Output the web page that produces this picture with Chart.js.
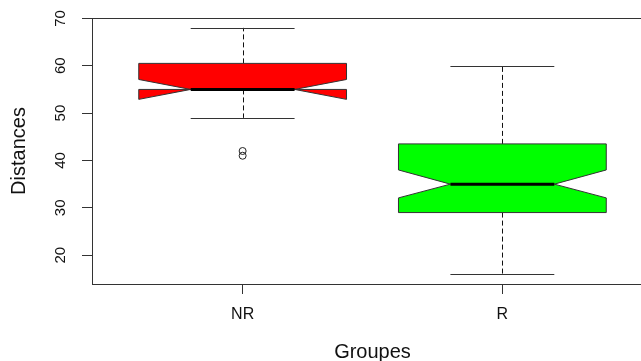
<!DOCTYPE html>
<html>
<head>
<meta charset="utf-8">
<script src="https://cdn.jsdelivr.net/npm/chart.js@4"></script>
<style>
  html, body { margin: 0; padding: 0; background: #fff; overflow: hidden; }
  #wrap { width: 660px; height: 361px; }
</style>
</head>
<body>
<div id="wrap"><canvas id="boite" width="660" height="361"></canvas></div>
<script>
// Donnees
const groupes = ['NR', 'R'];
const moustacheBas = [49, 16];
const quartileBas = [55, 29];
const medianes = [55, 35];
const quartileHaut = [60.5, 43.5];
const moustacheHaut = [68, 60];
const encocheBas = [52.9, 32.1];
const encocheHaut = [57.1, 38];
const aberrantsX = [1, 1];
const aberrantsY = [41, 42];
const couleurs = ['#ff0000', '#00ff00'];
const graduationsY = [20, 30, 40, 50, 60, 70];

const trait = '#333333';

// Dessin des boites a encoche (style R) via les echelles du graphique
const boitesPlugin = {
    id: 'boites',
    beforeDatasetsDraw(chart) {
        const ctx = chart.ctx;
        const x = chart.scales.x;
        const y = chart.scales.y;
        const area = chart.chartArea;

        ctx.save();
        groupes.forEach((g, i) => {
            const pos = i + 1;
            const xc = x.getPixelForValue(pos);
            const xl = x.getPixelForValue(pos - 0.4);
            const xr = x.getPixelForValue(pos + 0.4);
            const xil = x.getPixelForValue(pos - 0.2);
            const xir = x.getPixelForValue(pos + 0.2);

            // moustaches
            ctx.strokeStyle = '#111';
            ctx.lineWidth = 1;
            ctx.setLineDash([5, 3]);
            ctx.beginPath();
            ctx.moveTo(Math.round(xc) + 0.5, y.getPixelForValue(quartileHaut[i]));
            ctx.lineTo(Math.round(xc) + 0.5, y.getPixelForValue(moustacheHaut[i]));
            ctx.moveTo(Math.round(xc) + 0.5, y.getPixelForValue(quartileBas[i]));
            ctx.lineTo(Math.round(xc) + 0.5, y.getPixelForValue(moustacheBas[i]));
            ctx.stroke();
            ctx.setLineDash([]);

            // extremites
            ctx.strokeStyle = trait;
            ctx.beginPath();
            [moustacheHaut[i], moustacheBas[i]].forEach(v => {
                const py = Math.round(y.getPixelForValue(v)) + 0.5;
                ctx.moveTo(xil, py);
                ctx.lineTo(xir, py);
            });
            ctx.stroke();

            // boite avec encoche
            const yqb = y.getPixelForValue(quartileBas[i]);
            const yeb = y.getPixelForValue(encocheBas[i]);
            const ym = y.getPixelForValue(medianes[i]);
            const yeh = y.getPixelForValue(encocheHaut[i]);
            const yqh = y.getPixelForValue(quartileHaut[i]);
            ctx.beginPath();
            ctx.moveTo(xl, yqb);
            ctx.lineTo(xl, yeb);
            ctx.lineTo(xil, ym);
            ctx.lineTo(xl, yeh);
            ctx.lineTo(xl, yqh);
            ctx.lineTo(xr, yqh);
            ctx.lineTo(xr, yeh);
            ctx.lineTo(xir, ym);
            ctx.lineTo(xr, yeb);
            ctx.lineTo(xr, yqb);
            ctx.closePath();
            ctx.fillStyle = couleurs[i];
            ctx.fill();
            ctx.strokeStyle = trait;
            ctx.lineWidth = 1;
            ctx.stroke();

            // mediane
            ctx.strokeStyle = '#000';
            ctx.lineWidth = 3;
            ctx.beginPath();
            ctx.moveTo(xil, ym);
            ctx.lineTo(xir, ym);
            ctx.stroke();
        });

        // cadre
        ctx.strokeStyle = trait;
        ctx.lineWidth = 1;
        ctx.strokeRect(Math.round(area.left) + 0.5, Math.round(area.top) + 0.5,
            Math.round(area.right - area.left), Math.round(area.bottom - area.top));
        ctx.restore();
    }
};

const police = "'Liberation Sans', Arial, sans-serif";

new Chart(document.getElementById('boite').getContext('2d'), {
    type: 'scatter',
    data: {
        datasets: [{
            label: 'Aberrants',
            data: aberrantsX.map((v, i) => ({ x: v, y: aberrantsY[i] })),
            pointStyle: 'circle',
            pointRadius: 3.5,
            pointHoverRadius: 3.5,
            borderWidth: 1,
            borderColor: '#222',
            backgroundColor: 'rgba(0,0,0,0)'
        }]
    },
    options: {
        responsive: false,
        animation: false,
        layout: { padding: { top: 18, right: 7, left: 0, bottom: 0 } },
        plugins: {
            legend: { display: false },
            tooltip: { enabled: false }
        },
        scales: {
            x: {
                type: 'linear',
                min: 0.42,
                max: 2.58,
                afterBuildTicks: scale => { scale.ticks = groupes.map((g, i) => ({ value: i + 1 })); },
                afterFit: scale => {
                    scale.height = 77;
                    scale.paddingLeft = 0;
                    scale.paddingRight = 0;
                },
                ticks: {
                    autoSkip: false,
                    maxRotation: 0,
                    padding: 11,
                    color: '#111',
                    font: { family: police, size: 16 },
                    callback: v => groupes[v - 1]
                },
                grid: { drawOnChartArea: false, drawTicks: true, tickLength: 10, color: trait },
                border: { display: true, color: trait },
                title: {
                    display: true,
                    text: 'Groupes',
                    color: '#111',
                    font: { family: police, size: 20, lineHeight: 0.85 },
                    padding: { top: 0, bottom: 0 }
                }
            },
            y: {
                min: 13.92,
                max: 70.08,
                afterBuildTicks: scale => { scale.ticks = graduationsY.map(v => ({ value: v })); },
                afterFit: scale => {
                    scale.width = 92;
                    scale.paddingTop = 0;
                    scale.paddingBottom = 0;
                },
                ticks: {
                    minRotation: 90,
                    maxRotation: 90,
                    crossAlign: 'center',
                    padding: 13,
                    color: '#111',
                    font: { family: police, size: 15 }
                },
                grid: { drawOnChartArea: false, drawTicks: true, tickLength: 10, color: trait },
                border: { display: true, color: trait },
                title: {
                    display: true,
                    text: 'Distances',
                    color: '#111',
                    font: { family: police, size: 20, lineHeight: 1 },
                    padding: { top: 9, bottom: 0 }
                }
            }
        }
    },
    plugins: [boitesPlugin]
});
</script>
</body>
</html>
